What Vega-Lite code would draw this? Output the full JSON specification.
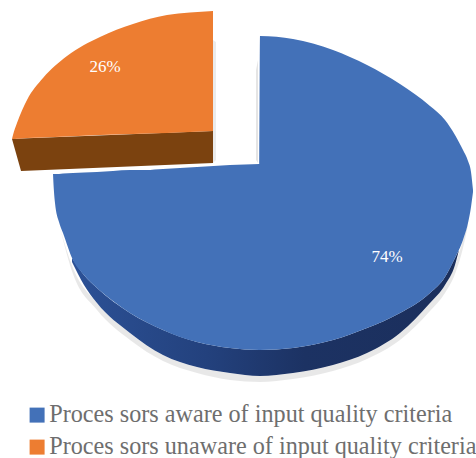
{
  "$schema": "https://vega.github.io/schema/vega-lite/v6.json",
  "width": 476,
  "height": 458,
  "padding": 0,
  "autosize": "none",
  "background": "white",
  "config": {"view": {"stroke": null}},
  "datasets": {
    "outline": [
      {"part": "shadow", "x": 60, "top": 228, "bottom": 228},
      {"part": "shadow", "x": 73, "top": 268, "bottom": 274},
      {"part": "shadow", "x": 97, "top": 303, "bottom": 310},
      {"part": "shadow", "x": 130, "top": 333, "bottom": 340},
      {"part": "shadow", "x": 163, "top": 355, "bottom": 361},
      {"part": "shadow", "x": 197, "top": 367, "bottom": 373},
      {"part": "shadow", "x": 230, "top": 373, "bottom": 380},
      {"part": "shadow", "x": 260, "top": 376, "bottom": 382},
      {"part": "shadow", "x": 293, "top": 373, "bottom": 379},
      {"part": "shadow", "x": 333, "top": 365, "bottom": 371},
      {"part": "shadow", "x": 367, "top": 353, "bottom": 359},
      {"part": "shadow", "x": 400, "top": 333, "bottom": 340},
      {"part": "shadow", "x": 430, "top": 303, "bottom": 311},
      {"part": "shadow", "x": 445, "top": 285, "bottom": 293},
      {"part": "shadow", "x": 455, "top": 265, "bottom": 274},
      {"part": "shadow", "x": 463, "top": 240, "bottom": 248},
      {"part": "shadow", "x": 468, "top": 223, "bottom": 225},

      {"part": "shadowEdge", "x": 213, "top": 40, "bottom": 163},
      {"part": "shadowEdge", "x": 216, "top": 42, "bottom": 160},

      {"part": "shadowEdge", "x": 256, "top": 70, "bottom": 160},
      {"part": "shadowEdge", "x": 258, "top": 60, "bottom": 163},

      {"part": "blueSide", "x": 72, "top": 258, "bottom": 262},
      {"part": "blueSide", "x": 84, "top": 275, "bottom": 285},
      {"part": "blueSide", "x": 97, "top": 288, "bottom": 303},
      {"part": "blueSide", "x": 130, "top": 313, "bottom": 333},
      {"part": "blueSide", "x": 163, "top": 330, "bottom": 355},
      {"part": "blueSide", "x": 197, "top": 342, "bottom": 367},
      {"part": "blueSide", "x": 230, "top": 348, "bottom": 373},
      {"part": "blueSide", "x": 260, "top": 350, "bottom": 376},
      {"part": "blueSide", "x": 293, "top": 348, "bottom": 373},
      {"part": "blueSide", "x": 333, "top": 340, "bottom": 365},
      {"part": "blueSide", "x": 367, "top": 328, "bottom": 353},
      {"part": "blueSide", "x": 400, "top": 313, "bottom": 333},
      {"part": "blueSide", "x": 430, "top": 293, "bottom": 303},
      {"part": "blueSide", "x": 445, "top": 277, "bottom": 285},
      {"part": "blueSide", "x": 455, "top": 258, "bottom": 265},
      {"part": "blueSide", "x": 459, "top": 250, "bottom": 250},

      {"part": "orangeSide", "x": 12, "top": 139, "bottom": 139},
      {"part": "orangeSide", "x": 21, "top": 138.6, "bottom": 171},
      {"part": "orangeSide", "x": 213, "top": 131, "bottom": 163},

      {"part": "aware", "x": 53, "top": 174, "bottom": 174},
      {"part": "aware", "x": 54, "top": 174, "bottom": 192},
      {"part": "aware", "x": 55, "top": 174, "bottom": 203},
      {"part": "aware", "x": 59, "top": 174, "bottom": 222},
      {"part": "aware", "x": 63, "top": 173.5, "bottom": 233},
      {"part": "aware", "x": 73, "top": 173, "bottom": 260},
      {"part": "aware", "x": 84, "top": 172.5, "bottom": 275},
      {"part": "aware", "x": 97, "top": 172, "bottom": 288},
      {"part": "aware", "x": 113, "top": 171, "bottom": 301},
      {"part": "aware", "x": 130, "top": 170, "bottom": 313},
      {"part": "aware", "x": 146, "top": 170, "bottom": 322},
      {"part": "aware", "x": 163, "top": 169, "bottom": 330},
      {"part": "aware", "x": 180, "top": 168, "bottom": 337},
      {"part": "aware", "x": 197, "top": 167, "bottom": 342},
      {"part": "aware", "x": 230, "top": 165, "bottom": 348},
      {"part": "aware", "x": 259.5, "top": 164, "bottom": 350},
      {"part": "aware", "x": 260, "top": 36, "bottom": 350},
      {"part": "aware", "x": 293, "top": 39, "bottom": 348},
      {"part": "aware", "x": 333, "top": 50, "bottom": 340},
      {"part": "aware", "x": 367, "top": 65, "bottom": 328},
      {"part": "aware", "x": 400, "top": 84, "bottom": 313},
      {"part": "aware", "x": 430, "top": 106, "bottom": 293},
      {"part": "aware", "x": 445, "top": 120, "bottom": 277},
      {"part": "aware", "x": 455, "top": 135, "bottom": 258},
      {"part": "aware", "x": 463, "top": 150, "bottom": 240},
      {"part": "aware", "x": 468, "top": 161, "bottom": 223},
      {"part": "aware", "x": 471, "top": 172, "bottom": 207},
      {"part": "aware", "x": 473, "top": 190, "bottom": 192},

      {"part": "unaware", "x": 12, "top": 139, "bottom": 139},
      {"part": "unaware", "x": 13, "top": 135, "bottom": 139},
      {"part": "unaware", "x": 17, "top": 123, "bottom": 138.8},
      {"part": "unaware", "x": 27, "top": 100, "bottom": 138},
      {"part": "unaware", "x": 43, "top": 78, "bottom": 137.5},
      {"part": "unaware", "x": 67, "top": 56, "bottom": 136.5},
      {"part": "unaware", "x": 100, "top": 37, "bottom": 135},
      {"part": "unaware", "x": 133, "top": 24, "bottom": 134},
      {"part": "unaware", "x": 167, "top": 15, "bottom": 133},
      {"part": "unaware", "x": 190, "top": 12.5, "bottom": 132},
      {"part": "unaware", "x": 213, "top": 11, "bottom": 131}
    ],
    "shares": [
      {"label": "26%", "x": 105, "y": 67},
      {"label": "74%", "x": 387, "y": 257}
    ]
  },
  "encoding": {
    "x": {"field": "x", "type": "quantitative", "axis": null, "scale": {"domain": [0, 476], "nice": false, "zero": false}},
    "y": {"field": "top", "type": "quantitative", "axis": null, "scale": {"domain": [458, 0], "nice": false, "zero": false}},
    "y2": {"field": "bottom"}
  },
  "layer": [
    {
      "data": {"name": "outline"},
      "transform": [{"filter": "datum.part === 'shadow'"}],
      "mark": {"type": "area", "color": "#000000", "opacity": 0.09, "interpolate": "monotone"}
    },
    {
      "data": {"name": "outline"},
      "transform": [{"filter": "datum.part === 'shadowEdge' && datum.x < 220"}],
      "mark": {"type": "area", "color": "#000000", "opacity": 0.08}
    },
    {
      "data": {"name": "outline"},
      "transform": [{"filter": "datum.part === 'shadowEdge' && datum.x > 220"}],
      "mark": {"type": "area", "color": "#000000", "opacity": 0.1}
    },
    {
      "data": {"name": "outline"},
      "transform": [{"filter": "datum.part === 'blueSide'"}],
      "mark": {
        "type": "area",
        "interpolate": "monotone",
        "color": {
          "gradient": "linear", "x1": 0, "y1": 0, "x2": 1, "y2": 0,
          "stops": [
            {"offset": 0, "color": "#2c5196"},
            {"offset": 0.35, "color": "#23417d"},
            {"offset": 0.6, "color": "#1c3263"},
            {"offset": 1, "color": "#1b2f5c"}
          ]
        }
      }
    },
    {
      "data": {"name": "outline"},
      "transform": [{"filter": "datum.part === 'orangeSide'"}],
      "mark": {"type": "area", "color": "#7b420f"}
    },
    {
      "data": {"name": "outline"},
      "transform": [
        {"filter": "datum.part === 'aware' || datum.part === 'unaware'"}
      ],
      "mark": {"type": "area", "interpolate": "monotone"},
      "encoding": {
        "color": {
          "field": "part",
          "type": "nominal",
          "scale": {"domain": ["aware", "unaware"], "range": ["#4371b8", "#ed7d31"]},
          "legend": {
            "orient": "none",
            "legendX": 25,
            "legendY": 403,
            "title": null,
            "symbolType": "square",
            "symbolSize": 225,
            "symbolStrokeWidth": 0,
            "labelFont": "Liberation Serif",
            "labelFontSize": 24.2,
            "labelColor": "#6e6e6e",
            "labelLimit": 470,
            "labelOffset": 0,
            "rowPadding": 7,
            "labelExpr": "datum.value === 'aware' ? 'Proces sors aware of input quality criteria' : 'Proces sors unaware of input quality criteria'"
          }
        }
      }
    },
    {
      "data": {"name": "shares"},
      "mark": {"type": "text", "font": "Liberation Serif", "fontSize": 17, "color": "#ffffff", "align": "center", "baseline": "middle"},
      "encoding": {
        "x": {"field": "x", "type": "quantitative"},
        "y": {"field": "y", "type": "quantitative"},
        "y2": null,
        "text": {"field": "label"}
      }
    }
  ]
}
